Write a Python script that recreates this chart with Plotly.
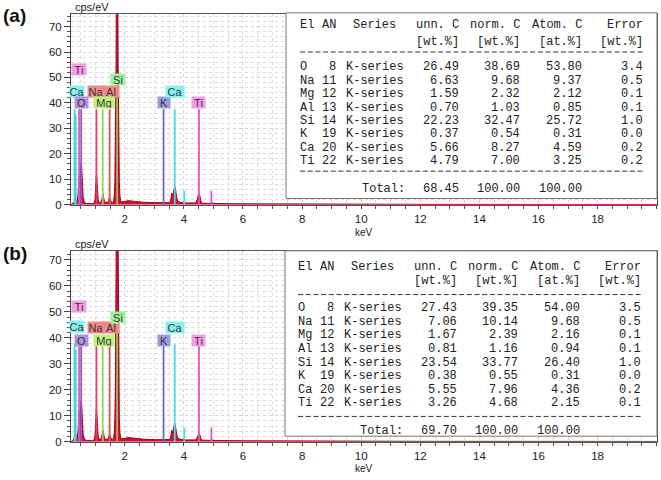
import plotly.graph_objects as go

W, H = 661, 480

# ---------------- spectrum data ----------------
energy_a = [0.18, 0.24, 0.28, 0.30, 0.33, 0.36, 0.39, 0.42, 0.45, 0.47, 0.49, 0.51, 0.525, 0.545,
            0.565, 0.59, 0.63, 0.70, 0.90, 0.96, 0.99, 1.01, 1.03, 1.04, 1.055, 1.075, 1.10, 1.13,
            1.18, 1.22, 1.24, 1.26, 1.28, 1.31, 1.36, 1.43, 1.46, 1.48, 1.50, 1.53, 1.58,
            1.62, 1.645, 1.665, 1.685, 1.705, 1.72, 1.74, 1.76, 1.775, 1.795, 1.815, 1.835, 1.86, 1.90,
            2.0, 2.1, 2.3, 2.6, 3.0,
            3.27, 3.31, 3.35, 3.54, 3.57, 3.59, 3.62, 3.66, 3.69, 3.72, 3.75, 3.80, 3.95, 3.99,
            4.01, 4.04, 4.40, 4.45, 4.49, 4.51, 4.535, 4.57, 4.62, 4.88, 4.93, 4.98,
            6.0, 8.0, 10.0, 12.0, 20.0]
cps_a = [0.0, 0.4, 1.0, 0.6, 1.8, 2.2, 1.5, 4.0, 11.5, 10.0, 11.5, 15.0, 16.5, 14.0,
         8.0, 3.0, 1.0, 0.5, 0.4, 0.6, 2.0, 6.0, 11.0, 12.0, 10.0, 5.0, 2.0, 0.8,
         0.8, 2.0, 3.6, 4.3, 3.2, 1.4, 0.9, 1.0, 1.8, 2.8, 2.5, 1.3, 0.9,
         1.4, 3.5, 9.0, 24.0, 55.0, 100.0, 135.0, 100.0, 55.0, 24.0, 9.0, 3.5, 1.6, 1.2,
         1.2, 1.6, 1.3, 1.0, 0.8,
         0.8, 1.2, 0.8, 0.9, 3.0, 4.5, 3.5, 6.0, 7.3, 6.0, 3.0, 1.2, 0.8, 1.3,
         1.5, 0.7, 0.7, 2.0, 4.0, 4.6, 3.8, 1.5, 0.6, 0.5, 1.0, 0.5,
         0.35, 0.25, 0.2, 0.15, 0.1]

energy_b = energy_a
cps_b = [0.0, 0.4, 1.2, 0.6, 2.0, 2.4, 1.5, 4.0, 12.0, 10.0, 11.5, 14.5, 16.0, 13.5,
         8.0, 3.0, 1.0, 0.5, 0.4, 0.6, 2.2, 6.5, 11.8, 12.8, 10.5, 5.5, 2.2, 0.8,
         0.8, 2.2, 3.9, 4.6, 3.4, 1.4, 0.9, 1.0, 1.9, 3.0, 2.6, 1.3, 0.9,
         1.4, 3.5, 9.0, 24.0, 56.0, 102.0, 138.0, 102.0, 56.0, 24.0, 9.0, 3.5, 1.6, 1.2,
         1.2, 1.6, 1.3, 1.0, 0.8,
         0.8, 1.2, 0.8, 0.9, 3.0, 4.4, 3.4, 6.0, 7.2, 5.8, 3.0, 1.2, 0.8, 1.2,
         1.4, 0.7, 0.7, 1.6, 3.0, 3.3, 2.8, 1.2, 0.6, 0.5, 0.9, 0.5,
         0.35, 0.25, 0.2, 0.15, 0.1]

# ---------------- element marker lines ----------------
line_energy = [0.302, 0.341, 0.452, 0.525, 1.041, 1.254, 1.487, 1.740, 3.313, 3.691, 4.012, 4.510, 4.931]
line_height = [37.5, 35.5, 37.5, 37.5, 37.5, 37.5, 37.5, 47.0, 37.5, 37.5, 5.5, 37.5, 5.5]
line_color = ["#3fd6dc", "#3fd6dc", "#e055cc", "#8e5cc4", "#e2406e", "#9bd65a", "#e05a5a",
              "#a9b845", "#6b6bbf", "#4fdcdc", "#4fdcdc", "#e055cc", "#e055cc"]

label_text = ["Ti", "Ca", "O", "Na", "Al", "Mg", "Si", "K", "Ca", "Ti"]
label_energy = [0.45, 0.37, 0.54, 1.04, 1.53, 1.29, 1.76, 3.31, 3.69, 4.51]
label_level_a = [53.0, 44.6, 40.0, 44.4, 44.4, 40.0, 49.0, 40.0, 44.4, 40.0]
label_level_b = [52.0, 44.2, 39.0, 43.8, 43.8, 39.0, 47.8, 39.0, 43.8, 39.0]
label_bg = ["#f79ce8", "#86f2f2", "#b293e0", "#f08a8a", "#f08a8a", "#bdf27e", "#9ef29e",
            "#9b9be0", "#86f2f2", "#f79ce8"]
label_w = [14, 14, 13, 16, 16, 20, 14, 12, 18, 13]

# ---------------- quantification tables ----------------
el_names = ["O", "Na", "Mg", "Al", "Si", "K", "Ca", "Ti"]
el_an = [8, 11, 12, 13, 14, 19, 20, 22]
unn_a = [26.49, 6.63, 1.59, 0.70, 22.23, 0.37, 5.66, 4.79]
norm_a = [38.69, 9.68, 2.32, 1.03, 32.47, 0.54, 8.27, 7.00]
atom_a = [53.80, 9.37, 2.12, 0.85, 25.72, 0.31, 4.59, 3.25]
err_a = [3.4, 0.5, 0.1, 0.1, 1.0, 0.0, 0.2, 0.2]
total_a = [68.45, 100.00, 100.00]

unn_b = [27.43, 7.06, 1.67, 0.81, 23.54, 0.38, 5.55, 3.26]
norm_b = [39.35, 10.14, 2.39, 1.16, 33.77, 0.55, 7.96, 4.68]
atom_b = [54.00, 9.68, 2.16, 0.94, 26.40, 0.31, 4.36, 2.15]
err_b = [3.5, 0.5, 0.1, 0.1, 1.0, 0.0, 0.2, 0.1]
total_b = [69.70, 100.00, 100.00]

header1 = ["El", "AN", "Series", "unn. C", "norm. C", "Atom. C", "Error"]
header2 = ["[wt.%]", "[wt.%]", "[at.%]", "[wt.%]"]


def px(x):
    return x / W


def py(y):
    return 1 - y / H


fig = go.Figure()
SANS = "Liberation Sans, Arial, sans-serif"
TICKFONT = dict(family=SANS, size=11.5, color="#222")
MONO = "Liberation Mono, Courier New, monospace"
CW = 7.67  # character cell width in the table

panels = [
    dict(xa="x", ya="y", xk="xaxis", yk="yaxis", energy=energy_a, cps=cps_a, top=14, bot=207.3, ymax=75,
         levels=label_level_a, tab=(unn_a, norm_a, atom_a, err_a, total_a),
         box=(286, 13, 657, 201), tx=298.8,
         h1=25, h2=42.7, d1=52.7, r0=68.3, dr=13.57, d2=173.3, tot=191,
         tag="(a)", tag_y=16, kev_y=235),
    dict(xa="x2", ya="y2", xk="xaxis2", yk="yaxis2", energy=energy_b, cps=cps_b, top=254, bot=447.3, ymax=73.5,
         levels=label_level_b, tab=(unn_b, norm_b, atom_b, err_b, total_b),
         box=(285, 254, 657, 441.7), tx=296.8,
         h1=270.6, h2=284.4, d1=298.3, r0=312.3, dr=13.71, d2=421.7, tot=436.7,
         tag="(b)", tag_y=257, kev_y=474.5),
]

shapes = []
annotations = []
layout_axes = {}


def txt(x, y, s, anchor):
    annotations.append(dict(x=px(x), y=py(y), xref="paper", yref="paper", text=s, showarrow=False,
                            xanchor=anchor, yanchor="middle", borderpad=0,
                            font=dict(family=MONO, size=12, color="#222")))


for p in panels:
    # spectrum
    fig.add_trace(go.Scatter(x=p["energy"], y=p["cps"], mode="lines", fill="tozeroy",
                             fillcolor="#cc1036", line=dict(color="#a0001f", width=1),
                             xaxis=p["xa"], yaxis=p["ya"], showlegend=False, hoverinfo="skip"))
    # marker lines
    for e, h, c in zip(line_energy, line_height, line_color):
        fig.add_trace(go.Scatter(x=[e, e], y=[0, h], mode="lines", line=dict(color=c, width=1.8),
                                 xaxis=p["xa"], yaxis=p["ya"], showlegend=False, hoverinfo="skip"))
    # labels
    for t, e, lv, bg, wd in zip(label_text, label_energy, p["levels"], label_bg, label_w):
        annotations.append(dict(x=e, y=lv, xref=p["xa"], yref=p["ya"], text=t, showarrow=False,
                                bgcolor=bg, borderpad=0, width=wd, height=11,
                                xanchor="center", yanchor="middle",
                                font=dict(family=SANS, size=11, color="#333")))

    layout_axes[p["xk"]] = dict(
        domain=[px(71), px(657)], range=[0.18, 20.01], anchor=p["ya"],
        tickmode="linear", tick0=0, dtick=2, ticks="outside", ticklen=3, tickcolor="#444",
        showline=True, linecolor="#555", mirror=True, linewidth=1,
        showgrid=True, gridcolor="#d4d4d4", griddash="dot", gridwidth=1,
        minor=dict(dtick=0.5, ticks="outside", ticklen=3, tickcolor="#555",
                   showgrid=True, gridcolor="#dddddd", griddash="dot"),
        tickfont=TICKFONT, zeroline=False, fixedrange=True)
    layout_axes[p["yk"]] = dict(
        domain=[py(p["bot"]), py(p["top"])], range=[0, p["ymax"]], anchor=p["xa"],
        tickmode="linear", tick0=0, dtick=10, ticks="outside", ticklen=6, tickcolor="#444",
        showline=True, linecolor="#444", mirror=True, linewidth=1,
        showgrid=True, gridcolor="#d4d4d4", griddash="dot", gridwidth=1,
        minor=dict(dtick=2, ticks="outside", ticklen=3, tickcolor="#555",
                   showgrid=True, gridcolor="#dddddd", griddash="dot"),
        tickfont=TICKFONT, zeroline=False, fixedrange=True)

    # table box
    x0, y0, x1, y1 = p["box"]
    shapes.append(dict(type="rect", xref="paper", yref="paper", x0=px(x0), x1=px(x1), y0=py(y1), y1=py(y0),
                       fillcolor="white", line=dict(color="#777", width=1), layer="above"))

    tx = p["tx"]

    def right(col):
        return tx + (col + 1) * CW

    def left(col):
        return tx + col * CW

    # header
    txt(left(0), p["h1"], header1[0], "left")
    txt(right(4), p["h1"], header1[1], "right")
    txt(left(7), p["h1"], header1[2], "left")
    for s, c in zip(header1[3:], [20, 28, 36, 44]):
        txt(right(c), p["h1"], s, "right")
    for s, c in zip(header2, [20, 28, 36, 44]):
        txt(right(c), p["h2"], s, "right")

    # dashed separator rows
    for yy in (p["d1"], p["d2"]):
        shapes.append(dict(type="line", xref="paper", yref="paper", x0=px(left(0) + 1.3), x1=px(right(44)),
                           y0=py(yy), y1=py(yy), line=dict(color="#333", width=1, dash="5px,2.67px"),
                           layer="above"))

    unn, norm, atom, err, tot = p["tab"]
    for i, (el, an, u, n, a, er) in enumerate(zip(el_names, el_an, unn, norm, atom, err)):
        yy = p["r0"] + i * p["dr"]
        txt(left(0), yy, el, "left")
        txt(right(4), yy, str(an), "right")
        txt(left(6), yy, "K-series", "left")
        txt(right(20), yy, f"{u:.2f}", "right")
        txt(right(28), yy, f"{n:.2f}", "right")
        txt(right(36), yy, f"{a:.2f}", "right")
        txt(right(44), yy, f"{er:.1f}", "right")
    txt(right(13), p["tot"], "Total:", "right")
    for v, c in zip(tot, [20, 28, 36]):
        txt(right(c), p["tot"], f"{v:.2f}", "right")

    # axis captions and panel tags
    annotations.append(dict(x=px(74), y=py(p["top"] - 7), xref="paper", yref="paper", text="cps/eV",
                            showarrow=False, xanchor="left", yanchor="middle", borderpad=0,
                            font=dict(family=SANS, size=11, color="#222")))
    annotations.append(dict(x=px(364), y=py(p["kev_y"]), xref="paper", yref="paper", text="keV",
                            showarrow=False, xanchor="center", yanchor="middle", borderpad=0,
                            font=dict(family=SANS, size=10, color="#222")))
    annotations.append(dict(x=px(2), y=py(p["tag_y"]), xref="paper", yref="paper", text="<b>" + p["tag"] + "</b>",
                            showarrow=False, xanchor="left", yanchor="middle", borderpad=0,
                            font=dict(family=SANS, size=19, color="#111")))

fig.update_layout(width=W, height=H, margin=dict(l=0, r=0, t=0, b=0),
                  paper_bgcolor="white", plot_bgcolor="white",
                  shapes=shapes, annotations=annotations, showlegend=False, **layout_axes)

fig.write_html("out.html", config={"displayModeBar": False},
               post_script="document.body.style.margin='0';document.body.style.overflow='hidden';")
